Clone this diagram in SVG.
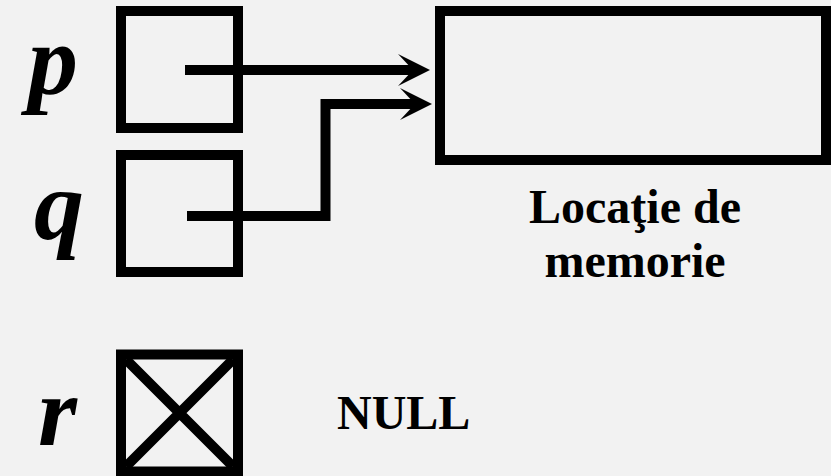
<svg xmlns="http://www.w3.org/2000/svg" width="831" height="476" viewBox="0 0 831 476">
<style>
.bg{fill:#f2f2f2}
.box{fill:none;stroke:#000;stroke-width:10}
.var{font-family:"Liberation Serif","Times New Roman",serif;font-weight:bold;font-style:italic;font-size:100px;fill:#000}
.lbl{font-family:"Liberation Serif","Times New Roman",serif;font-weight:bold;font-size:48px;fill:#000}
.con{fill:none;stroke:#000;stroke-width:10;stroke-linejoin:miter;stroke-linecap:butt}
</style>
<defs>
<marker id="arr" markerUnits="userSpaceOnUse" viewBox="-25 -20 40 40" markerWidth="40" markerHeight="40" refX="0" refY="0" orient="auto" overflow="visible">
<path d="M10,0 L-22,-16 L-7,0 L-22,16 Z" fill="#000"/>
</marker>
</defs>
<rect class="bg" x="0" y="0" width="831" height="476"/>
<g id="node-p">
<rect class="box" x="121" y="11" width="117" height="117"/>
<text class="var" x="28" y="94">p</text>
</g>
<g id="node-q">
<rect class="box" x="121" y="155" width="117" height="117"/>
<text class="var" x="34" y="239">q</text>
</g>
<g id="node-r">
<rect class="box" x="121" y="354.5" width="117" height="117"/>
<path class="box" d="M126,359.5 L233,466.5 M233,359.5 L126,466.5"/>
<text class="var" x="38" y="445">r</text>
</g>
<g id="node-mem">
<rect class="box" x="440" y="11" width="386" height="149"/>
<text class="lbl" x="635" y="223" text-anchor="middle">Locaţie de</text>
<text class="lbl" x="635" y="277" text-anchor="middle">memorie</text>
</g>
<g id="node-null">
<text class="lbl" x="337" y="429">NULL</text>
</g>
<g id="connectors">
<polyline class="con" points="185,70 420,70" marker-end="url(#arr)"/>
<polyline class="con" points="187,216 325.5,216 325.5,104 422,104" marker-end="url(#arr)"/>
</g>
</svg>
